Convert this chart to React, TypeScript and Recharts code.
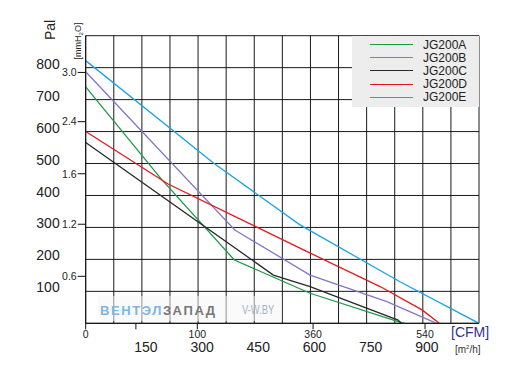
import { LineChart, Line, XAxis, YAxis, CartesianGrid, Legend } from 'recharts';

// Fan curves JG200A..E: air flow in m³/h, static pressure in Pa
const flowA = [0, 202, 397, 599, 834, 852];
const pressA = [740, 451, 198, 94, 5, 0];
const flowB = [0, 398, 599, 804, 937];
const pressB = [787, 292, 151, 68, 0];
const flowC = [0, 501, 599, 834, 842];
const pressC = [566, 151, 115, 10, 0];
const flowD = [0, 220, 572, 786, 898, 944];
const pressD = [600, 436, 235, 115, 42, 0];
const flowE = [0, 342, 572, 839, 1050];
const pressE = [822, 501, 308, 130, 0];

// axis ticks
const flowGrid = [0, 75, 150, 225, 300, 375, 450, 525, 600, 675, 750, 825, 900, 975, 1050];
const flowLabels = [150, 300, 450, 600, 750, 900];
const paGrid = [0, 100, 200, 300, 400, 500, 600, 700, 800, 900];
const paLabels = [100, 200, 300, 400, 500, 600, 700, 800];
const cfmTickAt = [0, 134, 298, 607, 906]; // placed on the m³/h scale
const cfmTickText = ['0', '', '100', '360', '540'];
const mmTickAt = [147, 310, 468, 631, 785]; // placed on the Pa scale
const mmTickText = ['0.6', '1.2', '1.6', '2.4', '3.0'];

const FONT = '"Liberation Sans", Arial, sans-serif';

const SERIES = [
  { name: 'JG200A', color: '#1b9a4a', flow: flowA, pressure: pressA },
  { name: 'JG200B', color: '#8577c4', flow: flowB, pressure: pressB },
  { name: 'JG200C', color: '#2a2a2a', flow: flowC, pressure: pressC },
  { name: 'JG200D', color: '#e8161e', flow: flowD, pressure: pressD },
  { name: 'JG200E', color: '#1ba3e4', flow: flowE, pressure: pressE },
];

const toPoints = (flow: number[], pressure: number[]) =>
  flow.map((q, i) => ({ q, p: pressure[i] }));

const PaTick = ({ x, y, payload }: any) => {
  if (!paLabels.includes(payload.value)) return null;
  return (
    <text x={x} y={y - 4} dy="0.36em" textAnchor="end" fontSize={14} fill="#222" fontFamily={FONT}>
      {payload.value}
    </text>
  );
};

const MmTick = ({ x, y, payload }: any) => {
  const i = mmTickAt.indexOf(payload.value);
  return (
    <text x={x} y={y} dy="0.36em" textAnchor="end" fontSize={10.5} fill="#222" fontFamily={FONT}>
      {mmTickText[i]}
    </text>
  );
};

const CfmTick = ({ x, y, payload }: any) => {
  const i = cfmTickAt.indexOf(payload.value);
  return (
    <text x={x} y={y} dy="0.71em" textAnchor="middle" fontSize={10.5} fill="#222" fontFamily={FONT}>
      {cfmTickText[i]}
    </text>
  );
};

const FlowTick = ({ x, y, payload }: any) => {
  if (!flowLabels.includes(payload.value)) return null;
  return (
    <text x={x + 4} y={y} dy="0.71em" textAnchor="middle" fontSize={14} fill="#222" fontFamily={FONT}>
      {payload.value}
    </text>
  );
};

const LegendBox = () => (
  <div style={{ width: 127, height: 71, background: '#ecedec', paddingTop: 2, boxSizing: 'border-box', fontFamily: FONT }}>
    {SERIES.map((s) => (
      <div key={s.name} style={{ height: 13.2, display: 'flex', alignItems: 'center' }}>
        <div style={{ marginLeft: 18, width: 43, borderTop: `1.2px solid ${s.color}` }} />
        <span style={{ marginLeft: 10, fontSize: 12, color: '#222', lineHeight: 1 }}>{s.name}</span>
      </div>
    ))}
  </div>
);

export default function App() {
  return (
    <div style={{ position: 'absolute', left: 0, top: 0, width: 517, height: 375, background: '#fff', fontFamily: FONT }}>
      <LineChart width={517} height={375} margin={{ top: 35.7, right: 38, bottom: 0, left: 0 }}>
        <CartesianGrid xAxisId="m3" yAxisId="pa" stroke="#1a1a1a" strokeWidth={1} />
        <XAxis
          xAxisId="cfm"
          type="number"
          dataKey="q"
          domain={[0, 1050]}
          allowDataOverflow
          ticks={cfmTickAt}
          interval={0}
          height={18}
          tickSize={6}
          tickMargin={1}
          axisLine={{ stroke: '#111' }}
          tickLine={{ stroke: '#111' }}
          tick={<CfmTick />}
        />
        <XAxis
          xAxisId="m3"
          type="number"
          dataKey="q"
          domain={[0, 1050]}
          allowDataOverflow
          ticks={flowGrid}
          interval={0}
          height={33.7}
          tickSize={0}
          tickMargin={1}
          axisLine={false}
          tickLine={false}
          tick={<FlowTick />}
        />
        <YAxis
          yAxisId="mm"
          type="number"
          domain={[0, 900]}
          allowDataOverflow
          ticks={mmTickAt}
          interval={0}
          width={26}
          tickSize={8}
          tickMargin={1}
          axisLine={{ stroke: '#111' }}
          tickLine={{ stroke: '#111' }}
          tick={<MmTick />}
        />
        <YAxis
          yAxisId="pa"
          type="number"
          domain={[0, 900]}
          allowDataOverflow
          ticks={paGrid}
          interval={0}
          width={59.7}
          tickSize={0}
          tickMargin={0}
          axisLine={false}
          tickLine={false}
          tick={<PaTick />}
        />
        {SERIES.map((s) => (
          <Line
            key={s.name}
            name={s.name}
            xAxisId="m3"
            yAxisId="pa"
            data={toPoints(s.flow, s.pressure)}
            dataKey="p"
            type="linear"
            stroke={s.color}
            strokeWidth={1.3}
            dot={false}
            isAnimationActive={false}
          />
        ))}
        <Legend
          layout="vertical"
          align="center"
          verticalAlign="middle"
          wrapperStyle={{ left: 352, top: 36, width: 127, height: 71 }}
          content={() => <LegendBox />}
        />
      </LineChart>

      {/* axis captions */}
      <div style={{ position: 'absolute', left: 50, top: 30, transform: 'translate(-50%, -50%) rotate(-90deg)', fontSize: 14, color: '#222', whiteSpace: 'nowrap', lineHeight: 1 }}>
        Pal
      </div>
      <div style={{ position: 'absolute', left: 78.5, top: 40.5, transform: 'translate(-50%, -50%) rotate(-90deg)', fontSize: 9, color: '#222', whiteSpace: 'nowrap', lineHeight: 1 }}>
        [mmH<sub style={{ fontSize: 6 }}>2</sub>O]
      </div>
      <div style={{ position: 'absolute', left: 451, top: 325, fontSize: 14, color: '#2e3192', whiteSpace: 'nowrap', lineHeight: 1 }}>
        [CFM]
      </div>
      <div style={{ position: 'absolute', left: 455, top: 344, fontSize: 10, color: '#333', whiteSpace: 'nowrap', lineHeight: 1 }}>
        [m<sup style={{ fontSize: 6 }}>2</sup>/h]
      </div>

      {/* watermark */}
      <div style={{ position: 'absolute', left: 98, top: 296, width: 184, height: 25, background: 'rgba(245,245,245,0.55)' }} />
      <div style={{ position: 'absolute', left: 100, top: 304, fontSize: 13, fontWeight: 'bold', letterSpacing: 1.6, whiteSpace: 'nowrap', lineHeight: 1 }}>
        <span style={{ color: '#7cb6e2' }}>ВЕНТЭЛ</span>
        <span style={{ color: '#777' }}>ЗАПАД</span>
      </div>
      <div style={{ position: 'absolute', left: 242, top: 304, fontSize: 12, color: '#a4b2c6', whiteSpace: 'nowrap', lineHeight: 1, transform: 'scaleX(0.78)', transformOrigin: 'left' }}>
        V-W.BY
      </div>
    </div>
  );
}
